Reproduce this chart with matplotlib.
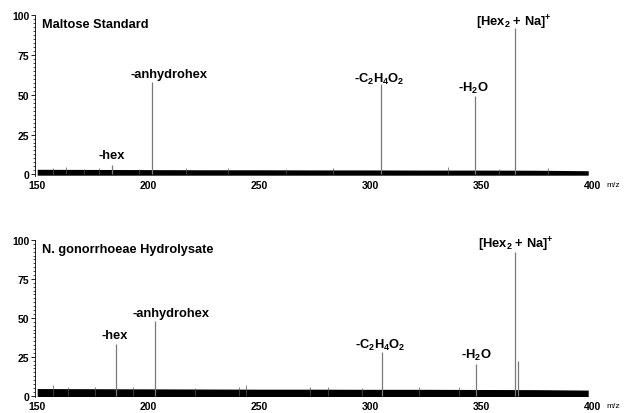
import matplotlib.pyplot as plt
from matplotlib.ticker import MultipleLocator

plt.rcParams['font.family'] = ['Liberation Sans', 'DejaVu Sans']
plt.rcParams['font.weight'] = 'bold'
plt.rcParams['mathtext.fontset'] = 'custom'
plt.rcParams['mathtext.rm'] = 'Liberation Sans:bold'
plt.rcParams['mathtext.it'] = 'Liberation Sans:bold'
plt.rcParams['mathtext.bf'] = 'Liberation Sans:bold'
plt.rcParams['mathtext.default'] = 'rm'

# peak positions (m/z) and relative intensities (%)
top_mz = [183.5, 201.8, 304.7, 346.9, 365.0]
top_int = [6, 58, 56.5, 49, 92]
bot_mz = [185.3, 203.1, 305.4, 347.4, 365.2, 366.4]
bot_int = [33.5, 48, 28, 20.5, 92.5, 22]

# small noise spikes poking above the baseline band
top_spike_mz = [157, 163, 171, 178, 196, 217, 236, 262, 283, 335, 358, 380]
top_spike_int = [3.8, 4.4, 3.6, 3.9, 3.6, 4.3, 3.7, 3.6, 3.8, 4.8, 3.6, 3.7]
bot_spike_mz = [157, 164, 176, 193, 221, 241, 244, 273, 281, 296, 322, 340]
bot_spike_int = [6.8, 5.8, 5.3, 5.4, 5.2, 5.9, 6.6, 5.8, 5.4, 5.2, 5.4, 5.3]

# baseline noise band envelope, sampled every 25 m/z
noise_mz = [150, 175, 200, 225, 250, 275, 300, 325, 350, 375, 398]
top_noise = [3.2, 3.1, 3.0, 2.9, 2.9, 2.8, 2.8, 2.7, 2.7, 2.6, 2.3]
bot_noise = [4.6, 4.5, 4.4, 4.3, 4.2, 4.2, 4.1, 4.1, 4.0, 3.9, 3.6]

peak_labels = ['-hex', '-anhydrohex', '-C$_2$H$_4$O$_2$', '-H$_2$O', '[Hex$_2$ + Na]$^{+}$']
top_lab_xy = [(183.5, 12.4), (209.4, 62.7), (303.8, 60.2), (346.2, 54.7), (364.7, 95.7)]
bot_lab_xy = [(184.8, 39), (210, 53.4), (304.2, 33), (347.5, 26.7), (365.4, 97.5)]

fig = plt.figure(figsize=(6.27, 4.14), dpi=100)
ax1 = fig.add_axes([0.0558, 0.5725, 0.893, 0.389])
ax2 = fig.add_axes([0.0558, 0.038, 0.893, 0.380])


def draw_panel(ax, title, mz, inten, smz, sint, nz, label_xy):
    ax.vlines(mz, 0, inten, color='#7a7a7a', lw=0.9)
    ax.vlines(smz, 0, sint, color='#555555', lw=0.5)
    ax.fill_between(noise_mz, -0.5, nz, color='black', lw=0)
    for lab, (x, y) in zip(peak_labels, label_xy):
        ax.text(x, y, lab, ha='center', va='center', fontsize=9.3, fontweight='bold')
    ax.text(152.2, 94.5, title, ha='left', va='center', fontsize=9.2, fontweight='bold')
    ax.set_xlim(149, 401)
    ax.set_ylim(-1, 100)
    ax.set_xticks([150, 200, 250, 300, 350, 400])
    ax.set_yticks([0, 25, 50, 75, 100])
    ax.yaxis.set_minor_locator(MultipleLocator(2.5))
    ax.tick_params(axis='x', length=0, labelsize=7.5, pad=3)
    ax.tick_params(axis='y', which='major', length=3, width=0.6, labelsize=7.5, pad=1)
    ax.tick_params(axis='y', which='minor', length=1.5, width=0.5)
    for s in ['top', 'right', 'bottom']:
        ax.spines[s].set_visible(False)
    ax.spines['left'].set_linewidth(0.6)
    for t in ax.get_xticklabels() + ax.get_yticklabels():
        t.set_fontweight('bold')
    ax.annotate('m/z', xy=(1.0, 0), xycoords='axes fraction', xytext=(8.5, -3.5),
                textcoords='offset points', ha='left', va='top',
                fontsize=6, fontweight='normal')


draw_panel(ax1, 'Maltose Standard', top_mz, top_int, top_spike_mz, top_spike_int,
           top_noise, top_lab_xy)
draw_panel(ax2, 'N. gonorrhoeae Hydrolysate', bot_mz, bot_int, bot_spike_mz, bot_spike_int,
           bot_noise, bot_lab_xy)

fig.savefig('out.png', dpi=100)
